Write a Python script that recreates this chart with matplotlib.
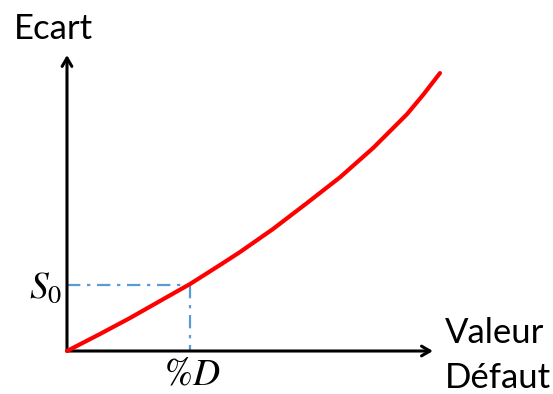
import matplotlib.pyplot as plt

# curve: Ecart as a function of Valeur Défaut (arbitrary units)
defaut = [0.0, 0.885, 1.689, 2.493, 3.298, 4.102, 4.638, 5.523, 6.434,
          7.319, 8.204, 9.115, 9.544, 10.0]
ecart = [0.0, 0.612, 1.187, 1.799, 2.410, 3.094, 3.56, 4.39, 5.324,
         6.25, 7.30, 8.52, 9.21, 10.0]
d_pct = 3.30
s0 = 2.37
x_axis_end = 9.81
y_axis_end = 10.65

plt.rcParams["font.family"] = ["Lato", "DejaVu Sans"]
plt.rcParams["mathtext.fontset"] = "stix"

fig = plt.figure(figsize=(5.53, 3.94), dpi=100)
ax = fig.add_axes([0, 0, 1, 1])
ax.set_xlim(-1.796, 13.03)
ax.set_ylim(-1.547, 12.63)
ax.axis("off")

# axes with arrows
arrow = dict(arrowstyle="->,head_length=0.6,head_width=0.35", color="black",
             lw=2.2, shrinkA=0, shrinkB=0)
ax.annotate("", xy=(x_axis_end, 0), xytext=(0, 0), arrowprops=arrow)
ax.annotate("", xy=(0, y_axis_end), xytext=(0, 0), arrowprops=arrow)

# reference lines
blue = "#5B9BD5"
dash = (0, (6, 3, 1.5, 3))
ax.plot([0, d_pct], [s0, s0], color=blue, lw=1.6, ls=dash)
ax.plot([d_pct, d_pct], [s0, 0], color=blue, lw=1.6, ls=dash)

ax.plot(defaut, ecart, color="red", lw=3, solid_capstyle="round",
        solid_joinstyle="round", zorder=3)

ax.text(-0.375, 11.22, "Ecart", fontsize=25, ha="center", va="baseline")
ax.text(10.13, 0.30, "Valeur", fontsize=25, ha="left", va="baseline")
ax.text(10.13, -1.33, "Défaut", fontsize=25, ha="left", va="baseline")
ax.text(-0.12, 1.91, "$S_0$", fontsize=27, ha="right", va="baseline")
ax.text(3.35, -1.22, r"$\%D$", fontsize=27, ha="center", va="baseline")

fig.savefig("out.png", dpi=100)
